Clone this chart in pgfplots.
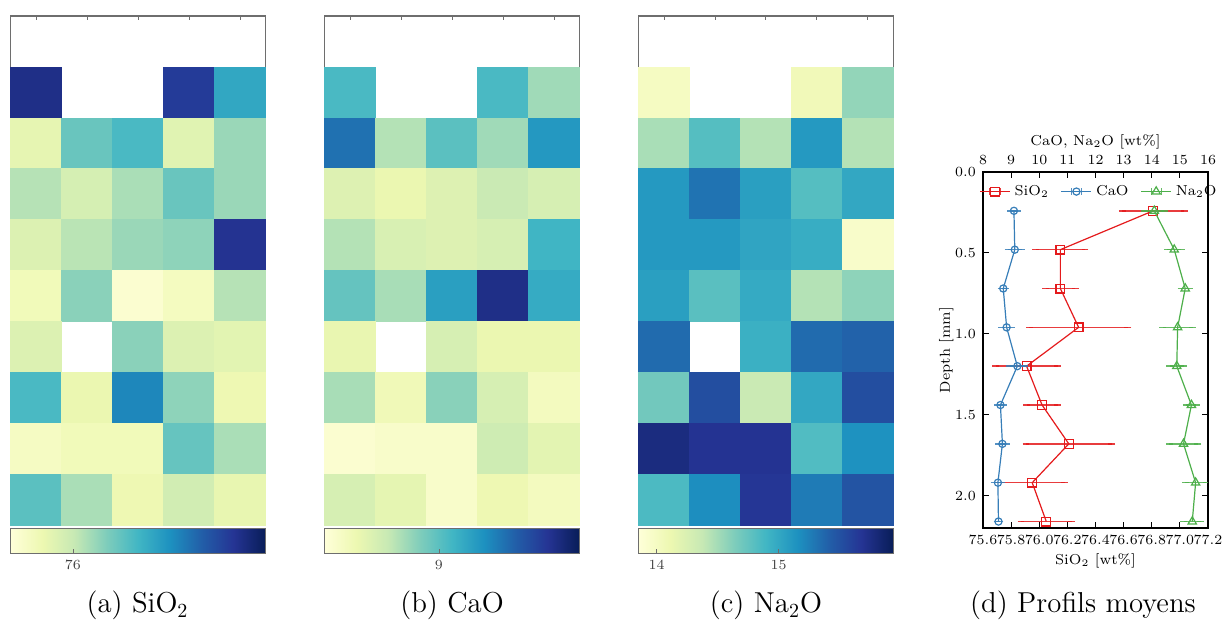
\documentclass[border=0pt]{standalone}
\usepackage{pgfplots}
\pgfplotsset{compat=1.18}
\usepackage{pgfplotstable}

\pgfplotsset{colormap={ylgnbu}{rgb255=(255,255,217) rgb255=(237,248,177) rgb255=(199,233,180) rgb255=(127,205,187) rgb255=(65,182,196) rgb255=(29,145,192) rgb255=(34,94,168) rgb255=(37,52,148) rgb255=(8,29,88)}}

\definecolor{cred}{RGB}{228,26,28}
\definecolor{cblue}{RGB}{55,126,184}
\definecolor{cgreen}{RGB}{77,175,74}
\definecolor{frm}{RGB}{110,110,110}

% heat-map cells: column, row (depth index), value
\pgfplotstableread{
cx ry val
0 1 76.94
3 1 76.87
4 1 76.44
0 2 75.86
1 2 76.25
2 2 76.34
3 2 75.89
4 2 76.12
0 3 76.05
1 3 75.94
2 3 76.08
3 3 76.25
4 3 76.12
0 4 75.91
1 4 76.04
2 4 76.12
3 4 76.15
4 4 76.91
0 5 75.79
1 5 76.16
2 5 75.69
3 5 75.76
4 5 76.05
0 6 75.91
2 6 76.16
3 6 75.91
4 6 75.88
0 7 76.34
1 7 75.84
2 7 76.58
3 7 76.15
4 7 75.82
0 8 75.75
1 8 75.79
2 8 75.79
3 8 76.26
4 8 76.08
0 9 76.29
1 9 76.08
2 9 75.82
3 9 75.96
4 9 75.85
}\tabsio

\pgfplotstableread{
cx ry val
0 1 9.05
3 1 9.05
4 1 8.81
0 2 9.37
1 2 8.76
2 2 9.00
3 2 8.81
4 2 9.22
0 3 8.61
1 3 8.54
2 3 8.61
3 3 8.70
4 3 8.64
0 4 8.76
1 4 8.63
2 4 8.61
3 4 8.64
4 4 9.08
0 5 8.97
1 5 8.79
2 5 9.19
3 5 9.66
4 5 9.13
0 6 8.55
2 6 8.64
3 6 8.54
4 6 8.54
0 7 8.79
1 7 8.50
2 7 8.87
3 7 8.64
4 7 8.47
0 8 8.39
1 8 8.42
2 8 8.42
3 8 8.68
4 8 8.58
0 9 8.64
1 9 8.57
2 9 8.42
3 9 8.52
4 9 8.47
}\tabcao

\pgfplotstableread{
cx ry val
0 1 14.00
3 1 14.06
4 1 14.56
0 2 14.48
1 2 14.81
2 2 14.44
3 2 15.10
4 2 14.44
0 3 15.10
1 3 15.31
2 3 15.06
3 3 14.81
4 3 15.00
0 4 15.10
1 4 15.10
2 4 15.02
3 4 14.96
4 4 13.95
0 5 15.06
1 5 14.79
2 5 14.98
3 5 14.44
4 5 14.58
0 6 15.35
2 6 14.94
3 6 15.35
4 6 15.40
0 7 14.69
1 7 15.52
2 7 14.35
3 7 15.00
4 7 15.52
0 8 15.77
1 8 15.69
2 8 15.69
3 8 14.83
4 8 15.15
0 9 14.85
1 9 15.17
2 9 15.67
3 9 15.27
4 9 15.48
}\tabnao

% mean profiles: depth, value, error
\pgfplotstableread{
d v e
0.24 76.81 0.22
0.48 76.15 0.175
0.72 76.15 0.105
0.96 76.28 0.35
1.20 75.91 0.22
1.44 76.02 0.11
1.68 76.21 0.305
1.92 75.95 0.23
2.16 76.05 0.18
}\profsio

\pgfplotstableread{
d v e
0.24 9.10 0.12
0.48 9.13 0.24
0.72 8.72 0.08
0.96 8.84 0.17
1.20 9.22 0.27
1.44 8.62 0.10
1.68 8.69 0.14
1.92 8.53 0.14
2.16 8.55 0.05
}\profcao

\pgfplotstableread{
d v e
0.24 14.09 0.36
0.48 14.80 0.25
0.72 15.19 0.15
0.96 14.92 0.53
1.20 14.89 0.25
1.44 15.41 0.18
1.68 15.13 0.50
1.92 15.56 0.37
2.16 15.44 0.30
}\profnao

\pgfplotsset{
  heatax/.style={
    anchor=north west, width=127.5pt, height=254.5pt, scale only axis,
    xmin=-0.5, xmax=4.5, ymin=-0.5, ymax=9.5, y dir=reverse,
    xtick={0,1,2,3,4}, ytick={1,3,5,7,9}, xticklabels={}, yticklabels={},
    axis line style={frm, line width=0.6pt}, tick style={frm, line width=0.3pt},
    major tick length=2pt, tick align=inside, axis on top, colormap name=ylgnbu,
    colorbar horizontal,
    colorbar shift/.style={yshift=-1.65pt},
    colorbar style={
      at={(parent axis.south west)}, anchor=north west,
      width=127.5pt, height=12.5pt, scale only axis,
      axis line style={frm, line width=0.6pt}, tick style={frm, line width=0.3pt},
      major tick length=2pt, tick align=inside, xtick pos=left,
      xticklabel style={font=\fontsize{7}{8.5}\selectfont, text=black!75},
    },
  },
  heatcells/.style={scatter, only marks, mark=square*, mark size=12.75pt,
    mark options={line width=0.2pt},
    scatter/use mapped color={draw=mapped color, fill=mapped color},
    point meta=\thisrow{val}},
  errstyle/.style={error bars/.cd, x dir=both, x explicit,
    error bar style={line width=0.7pt, opacity=0.85},
    error mark options={mark size=1.7pt, line width=0.7pt}},
}

\begin{document}
\begin{tikzpicture}
\useasboundingbox (0pt,0pt) rectangle (611pt,-312pt);

% (a) SiO2
\begin{axis}[heatax, at={(5.25pt,-8pt)}, point meta min=75.65, point meta max=77.08,
  colorbar style={xtick={76}}]
\addplot[heatcells] table[x=cx, y=ry] {\tabsio};
\end{axis}

% (b) CaO
\begin{axis}[heatax, at={(162.25pt,-8pt)}, point meta min=8.35, point meta max=9.8,
  colorbar style={xtick={9}}]
\addplot[heatcells] table[x=cx, y=ry] {\tabcao};
\end{axis}

% (c) Na2O
\begin{axis}[heatax, at={(319.15pt,-8pt)}, point meta min=13.85, point meta max=15.94,
  colorbar style={xtick={14,15}}]
\addplot[heatcells] table[x=cx, y=ry] {\tabnao};
\end{axis}

% (d) profiles: SiO2 on the lower axis
\begin{axis}[
  at={(491.5pt,-86pt)}, anchor=north west, width=112.5pt, height=178pt, scale only axis,
  xmin=75.6, xmax=77.2, ymin=0, ymax=2.2, y dir=reverse,
  xtick={75.6,75.8,76.0,76.2,76.4,76.6,76.8,77.0,77.2}, xtick pos=left,
  ytick={0,0.5,1,1.5,2}, tick align=inside, major tick length=3pt,
  axis line style={line width=0.7pt}, tick style={black, line width=0.5pt},
  xticklabel style={/pgf/number format/.cd, fixed, fixed zerofill, precision=1},
  yticklabel style={/pgf/number format/.cd, fixed, fixed zerofill, precision=1},
  tick label style={font=\fontsize{7.1}{8.5}\selectfont},
  label style={font=\fontsize{7.2}{8.6}\selectfont},
  xlabel={SiO$_2$ [wt\%]}, ylabel={Depth [mm]},
  xlabel style={yshift=2pt}, ylabel style={yshift=-6pt},
]
\addplot[cred, line width=0.6pt, mark=square, mark size=2.2pt, mark options={solid}, errstyle]
  table[x=v, y=d, x error=e] {\profsio};
\end{axis}

% CaO and Na2O on the upper axis
\begin{axis}[
  at={(491.5pt,-86pt)}, anchor=north west, width=112.5pt, height=178pt, scale only axis,
  xmin=8, xmax=16, ymin=0, ymax=2.2, y dir=reverse,
  axis x line*=top, axis y line=none, xtick={8,9,10,11,12,13,14,15,16},
  tick align=inside, major tick length=3pt,
  axis line style={line width=0.7pt}, tick style={black, line width=0.5pt},
  tick label style={font=\fontsize{7.1}{8.5}\selectfont},
  label style={font=\fontsize{7.2}{8.6}\selectfont},
  xlabel={CaO, Na$_2$O [wt\%]}, xlabel style={yshift=-3.5pt},
  legend columns=3,
  legend style={draw=none, fill=none, at={(0.52,0.945)}, anchor=center,
    font=\fontsize{7.2}{8.6}\selectfont,
    /tikz/every even column/.append style={column sep=4pt}},
  legend image code/.code={
    \draw[mark repeat=2, mark phase=2, #1] plot coordinates {(0pt,0pt) (7.5pt,0pt) (15pt,0pt)};
    \draw[#1, opacity=0.85] (5pt,-1.7pt) -- (5pt,1.7pt) (10pt,-1.7pt) -- (10pt,1.7pt);
  },
]
\addlegendimage{cred, line width=0.6pt, mark=square, mark size=2.2pt}
\addlegendentry{SiO$_2$}
\addlegendimage{cblue, line width=0.6pt, mark=o, mark size=1.8pt}
\addlegendentry{CaO}
\addlegendimage{cgreen, line width=0.6pt, mark=triangle, mark size=2.4pt}
\addlegendentry{Na$_2$O}
\addplot[forget plot, cblue, line width=0.6pt, mark=o, mark size=1.8pt, mark options={solid}, errstyle]
  table[x=v, y=d, x error=e] {\profcao};
\addplot[forget plot, cgreen, line width=0.6pt, mark=triangle, mark size=2.4pt, mark options={solid}, errstyle]
  table[x=v, y=d, x error=e] {\profnao};
\end{axis}

% captions
\node[anchor=base, font=\fontsize{14.4}{17}\selectfont] at (68.75pt,-306.5pt) {(a) SiO$_2$};
\node[anchor=base, font=\fontsize{14.4}{17}\selectfont] at (226pt,-306.5pt) {(b) CaO};
\node[anchor=base, font=\fontsize{14.4}{17}\selectfont] at (383pt,-306.5pt) {(c) Na$_2$O};
\node[anchor=base, font=\fontsize{14.4}{17}\selectfont] at (541.5pt,-306.5pt) {(d) Profils moyens};
\end{tikzpicture}
\end{document}
